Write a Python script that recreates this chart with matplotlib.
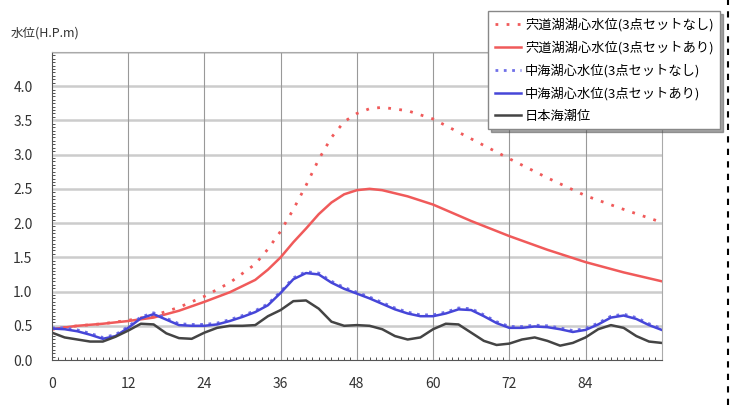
import numpy as np
import matplotlib.pyplot as plt
from matplotlib.ticker import MultipleLocator
from matplotlib.lines import Line2D

plt.rcParams['font.family'] = ['Noto Sans CJK JP', 'DejaVu Sans']

# 宍道湖湖心水位
t_shinji = [0, 4, 8, 12, 16, 20, 24, 28, 32, 34, 36, 38, 40, 42, 44, 46, 48, 50, 52,
            56, 60, 66, 72, 78, 84, 90, 96]
shinji_nashi = [0.45, 0.50, 0.53, 0.58, 0.65, 0.77, 0.93, 1.13, 1.40, 1.62, 1.88, 2.20,
                2.55, 2.93, 3.25, 3.48, 3.60, 3.67, 3.69, 3.64, 3.52, 3.23, 2.94, 2.66,
                2.40, 2.20, 2.01]
shinji_ari = [0.45, 0.50, 0.53, 0.57, 0.62, 0.72, 0.85, 0.99, 1.17, 1.32, 1.50, 1.72,
              1.92, 2.13, 2.30, 2.42, 2.48, 2.50, 2.48, 2.39, 2.27, 2.03, 1.81, 1.61,
              1.43, 1.28, 1.15]

# 中海湖心水位 / 日本海潮位 (2時間毎)
t2 = list(range(0, 97, 2))
naka_ari = [0.46, 0.45, 0.42, 0.37, 0.31, 0.35, 0.47, 0.61, 0.67, 0.59, 0.51, 0.50,
            0.50, 0.52, 0.57, 0.63, 0.70, 0.80, 0.98, 1.18, 1.27, 1.25, 1.13, 1.04,
            0.97, 0.90, 0.82, 0.74, 0.68, 0.64, 0.64, 0.68, 0.74, 0.73, 0.64, 0.54,
            0.47, 0.47, 0.49, 0.48, 0.45, 0.41, 0.44, 0.52, 0.62, 0.65, 0.60, 0.51, 0.44]
naka_nashi = [0.47, 0.47, 0.44, 0.39, 0.33, 0.37, 0.49, 0.63, 0.69, 0.61, 0.53, 0.52,
              0.52, 0.54, 0.59, 0.65, 0.72, 0.82, 1.00, 1.20, 1.29, 1.27, 1.15, 1.06,
              0.99, 0.92, 0.84, 0.76, 0.70, 0.66, 0.66, 0.70, 0.76, 0.75, 0.66, 0.56,
              0.49, 0.49, 0.51, 0.50, 0.47, 0.43, 0.46, 0.54, 0.64, 0.67, 0.62, 0.53, 0.46]
nihonkai = [0.40, 0.33, 0.30, 0.27, 0.27, 0.34, 0.43, 0.53, 0.52, 0.39, 0.32, 0.31,
            0.40, 0.47, 0.50, 0.50, 0.51, 0.64, 0.73, 0.86, 0.87, 0.75, 0.56, 0.50,
            0.51, 0.50, 0.45, 0.35, 0.30, 0.33, 0.45, 0.53, 0.52, 0.40, 0.28, 0.22,
            0.24, 0.30, 0.33, 0.28, 0.21, 0.25, 0.33, 0.45, 0.51, 0.47, 0.35, 0.27, 0.25]

labels = ['宍道湖湖心水位(3点セットなし)', '宍道湖湖心水位(3点セットあり)',
          '中海湖心水位(3点セットなし)', '中海湖心水位(3点セットあり)', '日本海潮位']

red = '#f05a5a'
blue = '#4646d8'
gray = '#444444'

fig = plt.figure(figsize=(7.32, 4.05), dpi=100)
ax = fig.add_axes([0.071, 0.111, 0.833, 0.761])

ax.plot(t_shinji, shinji_nashi, color=red, lw=2, ls=(0, (1, 3)), label=labels[0])
ax.plot(t_shinji, shinji_ari, color=red, lw=1.8, label=labels[1])
ax.plot(t2, naka_nashi, color='#7070e8', lw=2, ls=(0, (1, 2)), label=labels[2])
ax.plot(t2, naka_ari, color=blue, lw=1.8, label=labels[3])
ax.plot(t2, nihonkai, color=gray, lw=1.8, label=labels[4])

ax.set_xlim(0, 96)
ax.set_ylim(0, 4.5)
ax.set_xticks(range(0, 96, 12))
ax.set_yticks(np.arange(0, 4.01, 0.5))
ax.set_yticklabels(['%.1f' % v for v in np.arange(0, 4.01, 0.5)])
ax.xaxis.set_minor_locator(MultipleLocator(1))
ax.yaxis.set_minor_locator(MultipleLocator(0.05))
ax.tick_params(which='both', direction='in', labelsize=10, colors='#333333')
ax.tick_params(which='major', length=0)
ax.tick_params(which='minor', length=2.5)
ax.tick_params(axis='x', pad=12)
ax.tick_params(axis='y', pad=14)

for v in np.arange(0.5, 4.51, 0.5):
    ax.axhline(v, color='#cccccc', lw=1.8, zorder=0)
for v in range(12, 96, 12):
    ax.axvline(v, color='#999999', lw=0.8, zorder=0)

for s in ['top', 'right']:
    ax.spines[s].set_color('#aaaaaa')
for s in ['left', 'bottom']:
    ax.spines[s].set_color('#555555')

fig.text(0.014, 0.918, '水位(H.P.m)', fontsize=9, color='#333333', va='center')

leg = ax.legend(loc='upper right', bbox_to_anchor=(0.984, 0.972), bbox_transform=fig.transFigure,
                fontsize=9.5, frameon=True, fancybox=False, shadow=True, handlelength=2.0,
                handletextpad=0.3, labelspacing=0.7, borderpad=0.5, borderaxespad=0,
                framealpha=1)
leg.get_frame().set_edgecolor('#888888')
leg.get_frame().set_linewidth(1)

fig.add_artist(Line2D([0.995, 0.995], [0, 1], transform=fig.transFigure, color='black',
                      lw=1.5, ls=(0, (3, 3))))

fig.savefig('out.png', dpi=100)
